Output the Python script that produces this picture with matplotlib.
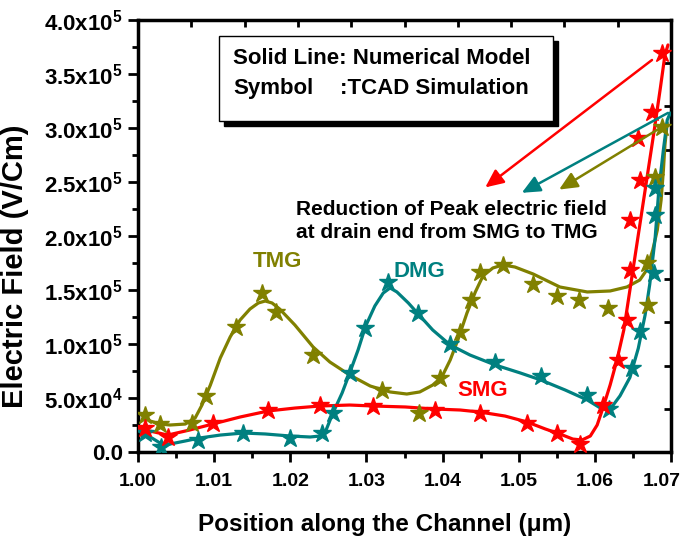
import matplotlib

matplotlib.use("Agg")
import matplotlib.pyplot as plt
import matplotlib.transforms as mtransforms
import numpy as np
from matplotlib.patches import Rectangle
from matplotlib.ticker import AutoMinorLocator, FixedLocator

plt.rcParams["font.family"] = "Liberation Sans"
plt.rcParams["font.weight"] = "bold"
plt.rcParams["mathtext.fontset"] = "custom"
plt.rcParams["mathtext.rm"] = "Liberation Sans:bold"
plt.rcParams["mathtext.it"] = "Liberation Sans:bold"
plt.rcParams["mathtext.bf"] = "Liberation Sans:bold"
plt.rcParams["mathtext.default"] = "rm"

OLIVE = "#808000"
TEAL = "#008080"
RED = "#ff0000"

# ---- numerical model (solid lines) ----
tmg_line_x = [1.0003, 1.0016, 1.0029, 1.0042, 1.0062, 1.0075, 1.0084, 1.0095, 1.0108, 1.0121,
              1.0134, 1.0147, 1.0158, 1.0167, 1.0176, 1.0186, 1.0206, 1.0230, 1.0252, 1.0278,
              1.0305, 1.0331, 1.0353, 1.0370, 1.0387, 1.0399, 1.0410, 1.0420, 1.0432, 1.0443,
              1.0453, 1.0466, 1.0479, 1.0495, 1.0519, 1.0554, 1.0590, 1.0620, 1.0642, 1.0659,
              1.0668, 1.0676, 1.0682, 1.0687, 1.0690, 1.0692, 1.0695]
tmg_line_y = [35200, 28700, 25900, 25000, 25900, 31500, 43500, 62000, 87000, 106500,
              122200, 132400, 138000, 139800, 138000, 132400, 117600, 97200, 83300, 71300,
              61100, 55600, 53700, 55600, 62000, 69500, 85200, 103700, 128700, 148200,
              163000, 170400, 173200, 171300, 164800, 152800, 148200, 149100, 152800, 159300,
              168500, 187100, 205600, 233400, 261100, 284300, 304700]

dmg_line_x = [1.0000, 1.0016, 1.0029, 1.0042, 1.0062, 1.0081, 1.0108, 1.0138, 1.0167, 1.0200,
              1.0226, 1.0239, 1.0247, 1.0256, 1.0268, 1.0278, 1.0289, 1.0299, 1.0311, 1.0322,
              1.0331, 1.0340, 1.0355, 1.0368, 1.0387, 1.0410, 1.0436, 1.0469, 1.0502, 1.0529,
              1.0561, 1.0590, 1.0610, 1.0622, 1.0633, 1.0646, 1.0657, 1.0666, 1.0672, 1.0679,
              1.0684, 1.0690, 1.0695, 1.0699]
dmg_line_y = [20400, 13900, 8300, 7400, 10200, 13000, 15700, 17600, 16700, 14800,
              13900, 14800, 20400, 36100, 54600, 73200, 94500, 116700, 135200, 147200,
              151900, 148200, 138000, 127800, 113000, 99100, 89800, 80600, 73200, 66700,
              57400, 48200, 39500, 41500, 52000, 69000, 96000, 127000, 155000, 197000,
              243000, 280000, 307400, 313900]

smg_line_x = [1.0000, 1.0016, 1.0039, 1.0068, 1.0098, 1.0134, 1.0171, 1.0206, 1.0239, 1.0278,
              1.0309, 1.0351, 1.0390, 1.0423, 1.0449, 1.0482, 1.0511, 1.0535, 1.0554, 1.0571,
              1.0583, 1.0594, 1.0603, 1.0611, 1.0620, 1.0629, 1.0638, 1.0646, 1.0654, 1.0662,
              1.0670, 1.0678, 1.0686, 1.0692, 1.0696]
smg_line_y = [22200, 19400, 15700, 20400, 25900, 32400, 38000, 40700, 42600, 43500,
              42600, 41700, 39800, 38900, 37000, 33300, 27800, 21300, 16700, 12000,
              11100, 14800, 25000, 41700, 62000, 85200, 113000, 150000, 187100, 224100,
              261100, 298200, 337100, 367600, 376900]

# ---- TCAD simulation (symbols) ----
tmg_sym_x = [1.0009, 1.0029, 1.0071, 1.0089, 1.0129, 1.0163, 1.0181, 1.0230, 1.0320, 1.0369,
             1.0397, 1.0423, 1.0437, 1.0449, 1.0479, 1.0519, 1.0550, 1.0579, 1.0617, 1.0670,
             1.0668, 1.0679, 1.0688]
tmg_sym_y = [34000, 26000, 27000, 52000, 116000, 147000, 130000, 90000, 57000, 36500,
             68500, 111000, 141000, 167000, 173000, 156000, 144000, 141000, 133000, 136000,
             175000, 255000, 301000]

dmg_sym_x = [1.0009, 1.0030, 1.0079, 1.0138, 1.0200, 1.0242, 1.0256, 1.0278, 1.0298, 1.0328,
             1.0368, 1.0410, 1.0469, 1.0529, 1.0590, 1.0619, 1.0649, 1.0659, 1.0678, 1.0679,
             1.0679]
dmg_sym_y = [17600, 4600, 11100, 17600, 13000, 17600, 36100, 73200, 114800, 157400,
             128700, 100000, 83300, 70400, 52800, 39800, 77800, 112000, 165800, 219500,
             244500]

smg_sym_x = [1.0009, 1.0039, 1.0098, 1.0171, 1.0239, 1.0309, 1.0390, 1.0449, 1.0511, 1.0550,
             1.0581, 1.0611, 1.0630, 1.0642, 1.0646, 1.0646, 1.0659, 1.0657, 1.0675, 1.0688]
smg_sym_y = [22200, 13900, 26900, 38900, 43500, 42600, 38900, 36100, 26900, 17600,
             7400, 43500, 85200, 122200, 168500, 214800, 251900, 290800, 314800, 369500]

x_ticks = [1.00, 1.01, 1.02, 1.03, 1.04, 1.05, 1.06, 1.07]
x_tick_labels = ["1.00", "1.01", "1.02", "1.03", "1.04", "1.05", "1.06", "1.07"]
y_ticks = [0, 50000, 100000, 150000, 200000, 250000, 300000, 350000, 400000]
y_tick_labels = ["0.0", r"5.0x10$^{4}$", r"1.0x10$^{5}$", r"1.5x10$^{5}$", r"2.0x10$^{5}$",
                 r"2.5x10$^{5}$", r"3.0x10$^{5}$", r"3.5x10$^{5}$", r"4.0x10$^{5}$"]

fig = plt.figure(figsize=(6.85, 5.44), dpi=100)
ax = fig.add_axes([0.2015, 0.1691, 0.7781, 0.7941])

series = [
    (tmg_line_x, tmg_line_y, tmg_sym_x, tmg_sym_y, OLIVE),
    (dmg_line_x, dmg_line_y, dmg_sym_x, dmg_sym_y, TEAL),
    (smg_line_x, smg_line_y, smg_sym_x, smg_sym_y, RED),
]
for lx, ly, sx, sy, color in series:
    ax.plot(lx, ly, color=color, lw=2.3, solid_capstyle="round", zorder=3)
    ax.plot(sx, sy, ls="none", marker="*", ms=13.5, color=color, mec=color, zorder=4)

ax.set_xlim(1.0, 1.07)
ax.set_ylim(0, 400000)
ax.xaxis.set_major_locator(FixedLocator(x_ticks))
ax.set_xticklabels(x_tick_labels)
ax.yaxis.set_major_locator(FixedLocator(y_ticks))
ax.set_yticklabels(y_tick_labels)
ax.xaxis.set_minor_locator(AutoMinorLocator(2))
ax.yaxis.set_minor_locator(AutoMinorLocator(2))

for spine in ax.spines.values():
    spine.set_linewidth(2.5)

ax.tick_params(axis="both", which="major", direction="out", length=7, width=2)
ax.tick_params(axis="both", which="minor", direction="out", length=4, width=2)
ax.tick_params(axis="x", which="major", pad=8, labelsize=14)
ax.tick_params(axis="y", which="major", pad=4, labelsize=16)

# last x label sits a little left of its tick, as in the original
last_lbl = ax.get_xticklabels()[-1]
last_lbl.set_transform(last_lbl.get_transform()
                       + mtransforms.ScaledTranslation(-0.09, 0, fig.dpi_scale_trans))

# inward ticks on top and right, ten divisions each
top = ax.secondary_xaxis("top")
top.set_xticks(np.linspace(1.0, 1.07, 11))
top.tick_params(direction="in", length=5, width=2, labeltop=False)
top.spines["top"].set_visible(False)
right = ax.secondary_yaxis("right")
right.set_yticks(np.linspace(0, 400000, 11))
right.tick_params(direction="in", length=5, width=2, labelright=False)
right.spines["right"].set_visible(False)

ax.set_xlabel("Position along the Channel (\u03bcm)", fontsize=17.5, fontweight="bold")
ax.set_ylabel("Electric Field (V/Cm)", fontsize=21, fontweight="bold")
ax.xaxis.set_label_coords(0.463, -0.142)
ax.yaxis.set_label_coords(-0.205, 0.43)

# legend-like box with shadow
box_x0, box_y0 = 1.01064, 306500
box_w, box_h = 0.04386, 78700
shadow_tr = ax.transData + mtransforms.ScaledTranslation(0.05, -0.05, fig.dpi_scale_trans)
ax.add_patch(Rectangle((box_x0, box_y0), box_w, box_h, facecolor="black",
                       edgecolor="black", transform=shadow_tr, zorder=5))
ax.add_patch(Rectangle((box_x0, box_y0), box_w, box_h, facecolor="white",
                       edgecolor="black", lw=1, zorder=6))
ax.text(1.0125, 364800, "Solid Line: Numerical Model", fontsize=16, va="center",
        ha="left", zorder=7)
ax.text(1.0125, 337000, "Symbol", fontsize=16, va="center", ha="left", zorder=7)
ax.text(1.0265, 337000, ":TCAD Simulation", fontsize=16, va="center", ha="left", zorder=7)

ax.text(1.02075, 224100, "Reduction of Peak electric field", fontsize=15, va="center",
        ha="left", zorder=7)
ax.text(1.02075, 202800, "at drain end from SMG to TMG", fontsize=15, va="center",
        ha="left", zorder=7)

ax.text(1.0183, 176000, "TMG", color=OLIVE, fontsize=16, ha="center", va="center", zorder=7)
ax.text(1.0369, 167600, "DMG", color=TEAL, fontsize=16, ha="center", va="center", zorder=7)
ax.text(1.0452, 56500, "SMG", color=RED, fontsize=16, ha="center", va="center", zorder=7)

arrows = [
    ((1.0456, 245000), (1.0675, 363000), RED),
    ((1.0504, 240000), (1.0696, 314000), TEAL),
    ((1.0553, 243000), (1.0688, 301000), OLIVE),
]
for tip, start, color in arrows:
    ax.annotate("", xy=tip, xytext=start,
                arrowprops=dict(arrowstyle="-|>,head_length=0.55,head_width=0.25",
                                color=color, lw=1.8, shrinkA=0, shrinkB=0,
                                mutation_scale=20),
                zorder=8)

fig.savefig("out.png", dpi=100)
plt.close(fig)
